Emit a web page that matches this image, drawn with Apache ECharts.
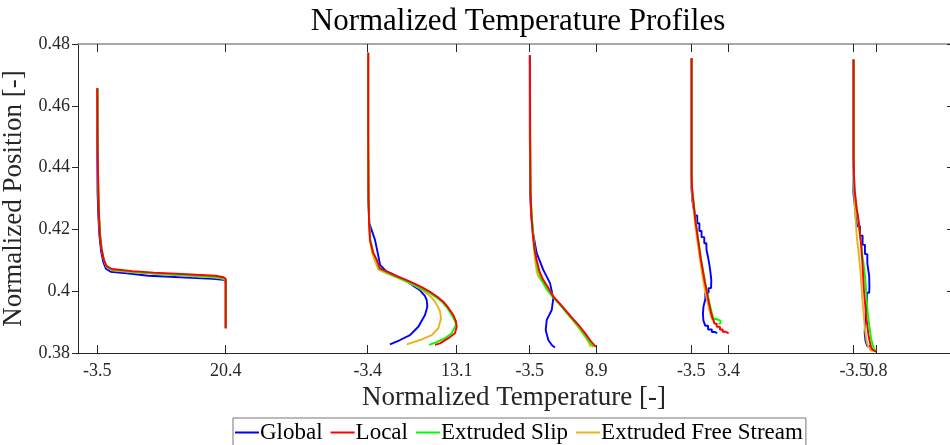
<!DOCTYPE html>
<html><head><meta charset="utf-8">
<script src="https://cdn.jsdelivr.net/npm/echarts@6/dist/echarts.min.js"></script>
<style>html,body{margin:0;padding:0;background:#fff}#c{width:950px;height:445px}</style>
</head><body><div id="c"></div>
<script>
// ---- data: [normalized temperature, normalized position] ----
const seriesNames = ['Global', 'Local', 'Extruded Slip', 'Extruded Free Stream'];
const yTicks = [0.38, 0.40, 0.42, 0.44, 0.46, 0.48];

const g1Ticks = [-3.5, 20.4];
const g2Ticks = [-3.4, 13.1];
const g3Ticks = [-3.5, 8.9];
const g4Ticks = [-3.5, 3.4];
const g5Ticks = [-3.5, 0.8];

const g1Global = [[-3.5,0.4657],[-3.5,0.445],[-3.45,0.432],[-3.3,0.424],[-3.1,0.418],[-2.8,0.413],[-2.4,0.4095],[-1.9,0.4073],[-1.0,0.4063],[2.0,0.4058],[6.0,0.4050],[10.0,0.4047],[14.0,0.4043],[18.0,0.4040],[20.0,0.4037],[20.4,0.4032],[20.4,0.388]];
const g1Local = [[-3.5,0.4657],[-3.45,0.448],[-3.35,0.436],[-3.2,0.425],[-3.0,0.418],[-2.7,0.4135],[-2.3,0.4102],[-1.8,0.4082],[-0.8,0.4072],[3.0,0.4065],[7.0,0.4060],[11.0,0.4057],[15.0,0.4053],[18.5,0.4050],[20.0,0.4045],[20.4,0.4040],[20.4,0.388]];
const g1Slip = [[-3.45,0.4657],[-3.42,0.446],[-3.35,0.435],[-3.2,0.425],[-3.0,0.4185],[-2.7,0.4137],[-2.3,0.4102],[-1.8,0.4080],[-0.8,0.4070],[3.0,0.4063],[7.0,0.4058],[11.0,0.4054],[15.0,0.4050],[18.5,0.4046],[20.0,0.4042],[20.4,0.4038],[20.4,0.388]];
const g1Free = [[-3.45,0.4657],[-3.4,0.446],[-3.32,0.435],[-3.17,0.425],[-2.95,0.418],[-2.65,0.4135],[-2.25,0.4100],[-1.75,0.4078],[-0.8,0.4068],[3.0,0.4061],[7.0,0.4056],[11.0,0.4052],[15.0,0.4048],[18.5,0.4044],[20.0,0.4040],[20.4,0.4036],[20.4,0.3885]];

const g2Global = [[-3.35,0.4772],[-3.35,0.45],[-3.3,0.43],[-3.1,0.422],[-2.05,0.4166],[-1.5,0.412],[-1.1,0.4085],[0.0,0.4065],[1.98,0.4049],[3.5,0.4036],[5.0,0.4018],[6.3,0.4003],[7.2,0.3985],[7.54,0.3971],[7.65,0.395],[7.22,0.3923],[5.98,0.3885],[4.44,0.3858],[2.59,0.3842],[0.73,0.3828]];
const g2Local = [[-3.3,0.4772],[-3.3,0.45],[-3.25,0.43],[-3.15,0.422],[-2.97,0.4165],[-2.4,0.4125],[-1.73,0.4102],[-1.12,0.4074],[0.4,0.4062],[1.98,0.4049],[3.5,0.4038],[5.05,0.4026],[6.6,0.4013],[8.15,0.3998],[9.5,0.3982],[10.62,0.3966],[11.6,0.3945],[12.47,0.3923],[12.95,0.3903],[13.1,0.3885],[12.78,0.3864],[11.55,0.3848],[10.0,0.3831],[9.08,0.3826]];
const g2Slip = [[-3.3,0.4772],[-3.3,0.45],[-3.23,0.43],[-3.12,0.422],[-2.9,0.4165],[-2.35,0.4125],[-1.75,0.4098],[-1.2,0.4072],[0.3,0.406],[1.9,0.4046],[3.4,0.4035],[4.9,0.4023],[6.4,0.401],[7.95,0.3995],[9.3,0.398],[10.45,0.3964],[11.4,0.3944],[12.2,0.3922],[12.8,0.3903],[12.97,0.3891],[12.17,0.3864],[10.93,0.3848],[9.39,0.3835],[7.96,0.3826]];
const g2Free = [[-3.3,0.4772],[-3.3,0.45],[-3.25,0.43],[-3.15,0.422],[-3.0,0.4165],[-2.6,0.4125],[-2.0,0.4095],[-1.4,0.407],[0.3,0.4056],[1.98,0.4045],[3.5,0.4033],[5.05,0.402],[6.4,0.4007],[7.54,0.3993],[8.4,0.398],[9.08,0.3966],[9.6,0.395],[10.0,0.3934],[10.19,0.3912],[9.69,0.388],[8.47,0.3858],[6.3,0.3842],[3.83,0.3828]];

const g3Global = [[-3.5,0.4764],[-3.48,0.45],[-3.42,0.432],[-3.25,0.425],[-2.9,0.419],[-2.2,0.4123],[-0.97,0.4069],[0.28,0.4026],[0.89,0.3977],[0.6,0.3939],[-0.33,0.3907],[-0.52,0.3874],[-0.04,0.3842],[0.6,0.3826],[1.21,0.3818]];
const g3Local = [[-3.45,0.4764],[-3.42,0.45],[-3.35,0.432],[-3.2,0.425],[-2.95,0.4187],[-2.6,0.4135],[-2.2,0.4101],[-1.7,0.4065],[-0.97,0.4036],[0.0,0.401],[0.89,0.3982],[2.2,0.3958],[3.39,0.3934],[4.6,0.391],[5.87,0.3885],[6.9,0.3862],[7.73,0.3842],[8.3,0.383],[8.79,0.382]];
const g3Slip = [[-3.45,0.4764],[-3.42,0.45],[-3.33,0.432],[-3.15,0.425],[-2.85,0.4187],[-2.55,0.4135],[-2.3,0.4101],[-1.9,0.4065],[-1.3,0.4036],[-0.3,0.4005],[0.75,0.3982],[2.0,0.3958],[3.2,0.3934],[4.4,0.391],[5.6,0.3885],[6.6,0.3862],[7.4,0.3842],[7.9,0.383],[8.35,0.382]];
const g3Free = [[-3.45,0.4764],[-3.42,0.45],[-3.33,0.432],[-3.15,0.425],[-2.9,0.4187],[-2.7,0.4135],[-2.51,0.4101],[-2.2,0.4065],[-1.9,0.4047],[-1.1,0.403],[-0.33,0.4015],[0.5,0.3995],[1.21,0.3977],[2.3,0.3955],[3.4,0.393],[4.5,0.3906],[5.6,0.3882],[6.6,0.3858],[7.3,0.384],[7.86,0.382]];

const g4Global = [[-3.45,0.4754],[-3.45,0.438],[-3.3,0.433],[-3.1,0.4295],[-2.8,0.427],[-2.4,0.4245],[-2.0,0.422],[-1.6,0.4195],[-1.1,0.4175],[-0.7,0.4155],[-0.4,0.4135],[-0.15,0.411],[0.05,0.4085],[0.2,0.406],[0.15,0.4035],[-0.3,0.401],[-0.9,0.3995],[-1.25,0.3975],[-1.35,0.395],[-1.25,0.3925],[-0.9,0.3905],[-0.4,0.3888],[0.3,0.3876],[0.9,0.3868],[1.3,0.3864]];
const g4Local = [[-3.43,0.4754],[-3.35,0.4365],[-3.2,0.4335],[-3.05,0.4305],[-2.9,0.428],[-2.75,0.4255],[-2.55,0.423],[-2.35,0.4205],[-2.15,0.418],[-1.95,0.4155],[-1.75,0.413],[-1.5,0.4105],[-1.25,0.408],[-1.0,0.4055],[-0.7,0.403],[-0.45,0.4005],[-0.15,0.398],[0.15,0.3955],[0.45,0.393],[0.8,0.3912],[1.2,0.3895],[1.8,0.3885],[2.3,0.3876],[2.9,0.3869],[3.4,0.3863]];
const g4Slip = [[-3.43,0.4754],[-3.38,0.437],[-3.2,0.4335],[-3.0,0.4305],[-2.85,0.428],[-2.7,0.4255],[-2.5,0.423],[-2.3,0.4205],[-2.1,0.418],[-1.9,0.4155],[-1.7,0.413],[-1.45,0.4105],[-1.2,0.408],[-0.95,0.4055],[-0.65,0.403],[-0.35,0.4005],[-0.05,0.398],[0.3,0.3955],[0.65,0.393],[1.1,0.391],[1.9,0.3905],[1.5,0.3895]];
const g4Free = [[-3.43,0.4754],[-3.4,0.436],[-3.3,0.4335],[-3.15,0.4305],[-3.0,0.428],[-2.85,0.4255],[-2.7,0.423],[-2.5,0.4205],[-2.3,0.418],[-2.1,0.4155],[-1.9,0.413],[-1.7,0.4105],[-1.5,0.408],[-1.25,0.4055],[-1.0,0.403],[-0.7,0.4005],[-0.4,0.398],[-0.05,0.3955],[0.3,0.393],[0.7,0.391],[1.0,0.3898],[1.2,0.3892]];

const g5Global = [[-3.55,0.475],[-3.5,0.4435],[-3.55,0.437],[-3.3,0.432],[-3.1,0.428],[-2.8,0.424],[-2.3,0.421],[-1.8,0.418],[-1.35,0.415],[-0.9,0.412],[-0.55,0.409],[-0.5,0.405],[-0.55,0.4015],[-0.95,0.3995],[-1.2,0.397],[-1.35,0.393],[-1.4,0.389],[-1.25,0.3865],[-0.9,0.384],[-0.3,0.3822],[0.3,0.381],[0.6,0.3806]];
const g5Local = [[-3.5,0.475],[-3.42,0.4435],[-3.3,0.437],[-3.1,0.4325],[-2.95,0.4295],[-2.7,0.4268],[-2.45,0.4245],[-2.3,0.4215],[-2.1,0.4185],[-1.98,0.4155],[-1.85,0.4125],[-1.75,0.4095],[-1.65,0.4065],[-1.55,0.4035],[-1.4,0.4005],[-1.25,0.3975],[-1.1,0.3945],[-0.9,0.3915],[-0.7,0.3888],[-0.45,0.386],[-0.2,0.3838],[0.1,0.382],[0.45,0.381],[0.8,0.3804]];
const g5Slip = [[-3.5,0.475],[-3.45,0.443],[-3.3,0.437],[-3.1,0.4325],[-2.8,0.429],[-2.55,0.4255],[-2.3,0.4215],[-2.0,0.418],[-1.8,0.4145],[-1.5,0.411],[-1.3,0.4075],[-1.15,0.404],[-1.0,0.4005],[-0.85,0.397],[-0.65,0.3935],[-0.4,0.3905],[-0.2,0.3875],[0.1,0.3848],[0.4,0.3828],[0.6,0.3812],[0.75,0.3806]];
const g5Free = [[-3.5,0.475],[-3.45,0.443],[-3.4,0.436],[-3.25,0.4315],[-3.1,0.427],[-2.95,0.4225],[-2.7,0.4185],[-2.45,0.4145],[-2.2,0.4105],[-2.05,0.4065],[-1.9,0.4025],[-1.7,0.3985],[-1.5,0.3945],[-1.3,0.3905],[-1.05,0.387],[-0.7,0.384],[-0.3,0.3818],[0.2,0.3808]];

// ---- layout ----
const FONT = '"Liberation Serif", "DejaVu Serif", serif';
const colors = { 'Global': '#0000ff', 'Local': '#ff0000', 'Extruded Slip': '#00ff00', 'Extruded Free Stream': '#edb120' };
const groups = [
  { ticks: g1Ticks, range: [-7.093, 155.23], data: { 'Global': g1Global, 'Local': g1Local, 'Extruded Slip': g1Slip, 'Extruded Free Stream': g1Free }, step: false },
  { ticks: g2Ticks, range: [-57.11, 104.55], data: { 'Global': g2Global, 'Local': g2Local, 'Extruded Slip': g2Slip, 'Extruded Free Stream': g2Free }, step: false },
  { ticks: g3Ticks, range: [-87.60, 74.75], data: { 'Global': g3Global, 'Local': g3Local, 'Extruded Slip': g3Slip, 'Extruded Free Stream': g3Free }, step: false },
  { ticks: g4Ticks, range: [-116.65, 44.24], data: { 'Global': g4Global, 'Local': g4Local, 'Extruded Slip': g4Slip, 'Extruded Free Stream': g4Free }, step: 'start' },
  { ticks: g5Ticks, range: [-151.08, 14.83], data: { 'Global': g5Global, 'Local': g5Local, 'Extruded Slip': g5Slip, 'Extruded Free Stream': g5Free }, step: 'start' }
];

const labelStyle = { fontFamily: FONT, fontSize: 18, color: '#262626', margin: 9, hideOverlap: false, showMinLabel: true, showMaxLabel: true };
const xAxes = [];
// bottom axes: ticks + first label
groups.forEach((g, i) => {
  xAxes.push(Object.assign({
    type: 'value', gridIndex: 0, position: 'bottom', min: g.range[0], max: g.range[1],
    axisLine: { show: i === 0, onZero: false, lineStyle: { color: '#262626', width: 1 } },
    axisTick: { show: true, inside: true, length: 8, customValues: g.ticks, lineStyle: { color: '#262626' } },
    axisLabel: Object.assign({ show: true, customValues: [g.ticks[0]], formatter: v => v.toFixed(1) }, labelStyle),
    splitLine: { show: false }
  }, i === 0 ? {
    name: 'Normalized Temperature [-]', nameLocation: 'middle', nameGap: 29,
    nameTextStyle: { fontFamily: FONT, fontSize: 27, color: '#262626' }
  } : {}));
});
// bottom axes: second label only
groups.forEach((g) => {
  xAxes.push({
    type: 'value', gridIndex: 0, position: 'bottom', min: g.range[0], max: g.range[1],
    axisLine: { show: false, onZero: false }, axisTick: { show: false },
    axisLabel: Object.assign({ show: true, customValues: [g.ticks[1]], formatter: v => v.toFixed(1) }, labelStyle),
    splitLine: { show: false }
  });
});
// top axes: ticks only
groups.forEach((g, i) => {
  xAxes.push({
    type: 'value', gridIndex: 0, position: 'top', min: g.range[0], max: g.range[1],
    axisLine: { show: i === 0, onZero: false, lineStyle: { color: '#8c8c8c', width: 1.5 } },
    axisTick: { show: true, inside: true, length: 8, customValues: g.ticks, lineStyle: { color: '#262626' } },
    axisLabel: { show: false },
    splitLine: { show: false }
  });
});

const order = ['Global', 'Extruded Free Stream', 'Extruded Slip', 'Local'];
const series = [];
groups.forEach((g, i) => {
  order.forEach(name => {
    series.push({
      type: 'line', name: name, xAxisIndex: i, yAxisIndex: 0,
      data: g.data[name], showSymbol: false, symbol: 'none',
      step: g.step, smooth: false, clip: false,
      lineStyle: { color: colors[name], width: 1.9 },
      itemStyle: { color: colors[name] },
      emphasis: { disabled: true }
    });
  });
});

const chart = echarts.init(document.getElementById('c'), null, { renderer: 'canvas' });
chart.setOption({
  animation: false,
  backgroundColor: '#ffffff',
  title: {
    text: 'Normalized Temperature Profiles', left: 513, top: 1, textAlign: 'center',
    textStyle: { fontFamily: FONT, fontSize: 31, fontWeight: 'normal', color: '#000' }
  },
  grid: { left: 78, top: 44, width: 872, height: 309, containLabel: false, outerBoundsMode: 'none' },
  legend: {
    data: seriesNames, left: 233, top: 418, orient: 'horizontal',
    icon: 'rect', itemWidth: 24, itemHeight: 2, itemGap: 8,
    padding: [3, 3, 12, 2], borderColor: '#777', borderWidth: 1, backgroundColor: '#fff',
    textStyle: { fontFamily: FONT, fontSize: 23, color: '#000', padding: [0, 0, 0, -4] }
  },
  xAxis: xAxes,
  yAxis: [
    {
      type: 'value', gridIndex: 0, position: 'left', min: yTicks[0], max: yTicks[yTicks.length - 1], interval: 0.02,
      axisLine: { show: true, onZero: false, lineStyle: { color: '#262626', width: 1 } },
      axisTick: { show: true, inside: false, length: 6, lineStyle: { color: '#262626' } },
      axisLabel: { formatter: v => String(parseFloat(v.toFixed(2))), fontFamily: FONT, fontSize: 18, color: '#262626', margin: 8 },
      splitLine: { show: false },
      name: 'Normalized Position [-]', nameLocation: 'middle', nameGap: 42,
      nameTextStyle: { fontFamily: FONT, fontSize: 27, color: '#262626' }
    },
    {
      type: 'value', gridIndex: 0, position: 'right', min: yTicks[0], max: yTicks[yTicks.length - 1], interval: 0.02,
      axisLine: { show: false, onZero: false },
      axisTick: { show: true, inside: true, length: 3, lineStyle: { color: '#262626' } },
      axisLabel: { show: false }, splitLine: { show: false }
    }
  ],
  series: series
});
</script></body></html>
